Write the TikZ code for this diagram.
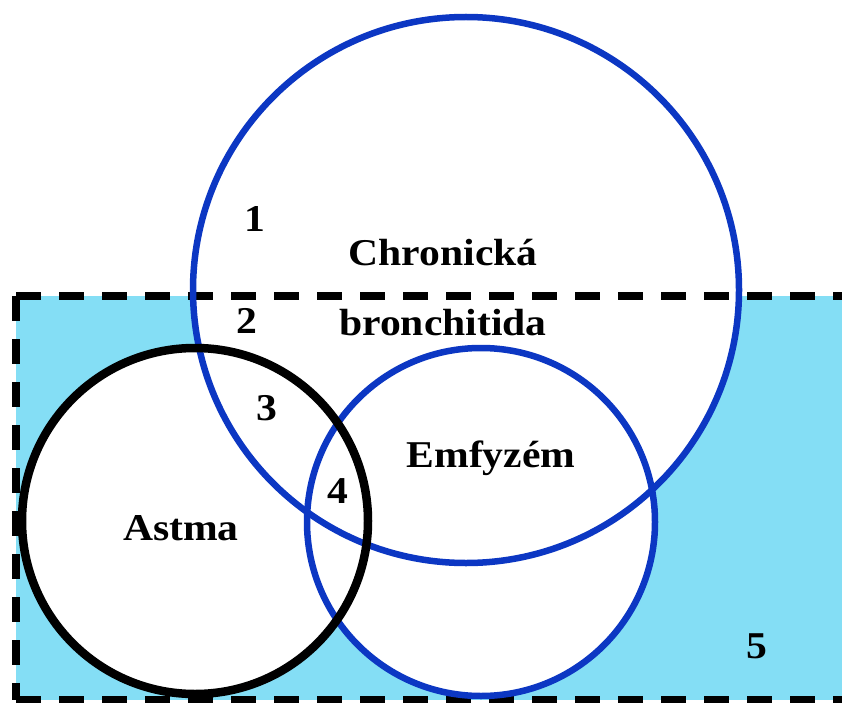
\documentclass[tikz,border=0pt]{standalone}
\usepackage{fontspec}
\newfontfamily\lbl{Liberation Serif}[FakeStretch=1.1]
\definecolor{vblue}{RGB}{12,55,195}
\definecolor{vcyan}{RGB}{132,222,245}
\tikzset{
  lab/.style={anchor=base, inner sep=0pt, font=\lbl\bfseries\fontsize{38}{44}\selectfont},
  bluering/.style={draw=vblue, line width=6.5bp},
  blackring/.style={draw=black, line width=8.5bp},
  border/.style={draw=black, line width=8bp, dash pattern=on 25bp off 18bp}
}
\begin{document}
\begin{tikzpicture}[x=1bp,y=-1bp]
\useasboundingbox (0,0) rectangle (842,703);
\begin{scope}
\clip (0,0) rectangle (842,703);
% shaded population
\fill[vcyan] (16,296) rectangle (850,700);
\fill[white] (466,290) circle[radius=273];
\fill[white] (481,522) circle[radius=174];
\fill[white] (195,521) circle[radius=173];
% dashed frame
\draw[border] (16,296) -- (850,296);
\draw[border] (16,296) -- (16,700);
\draw[border] (16,700) -- (850,700);
% circles
\draw[bluering] (466,290) circle[radius=273];
\draw[bluering] (481,522) circle[radius=174];
\draw[blackring] (195,521) circle[radius=173];
\end{scope}
% labels
\node[lab] (chron) at (443,265) {Chronická};
\node[lab] (bronch) at (443,335) {bronchitida};
\node[lab] (astma) at (181,540) {Astma};
\node[lab] (emf) at (491,467) {Emfyzém};
\node[lab] (n1) at (255,231) {1};
\node[lab] (n2) at (247,333) {2};
\node[lab] (n3) at (267,420) {3};
\node[lab] (n4) at (338,503) {4};
\node[lab] (n5) at (757,658) {5};
\end{tikzpicture}
\end{document}
